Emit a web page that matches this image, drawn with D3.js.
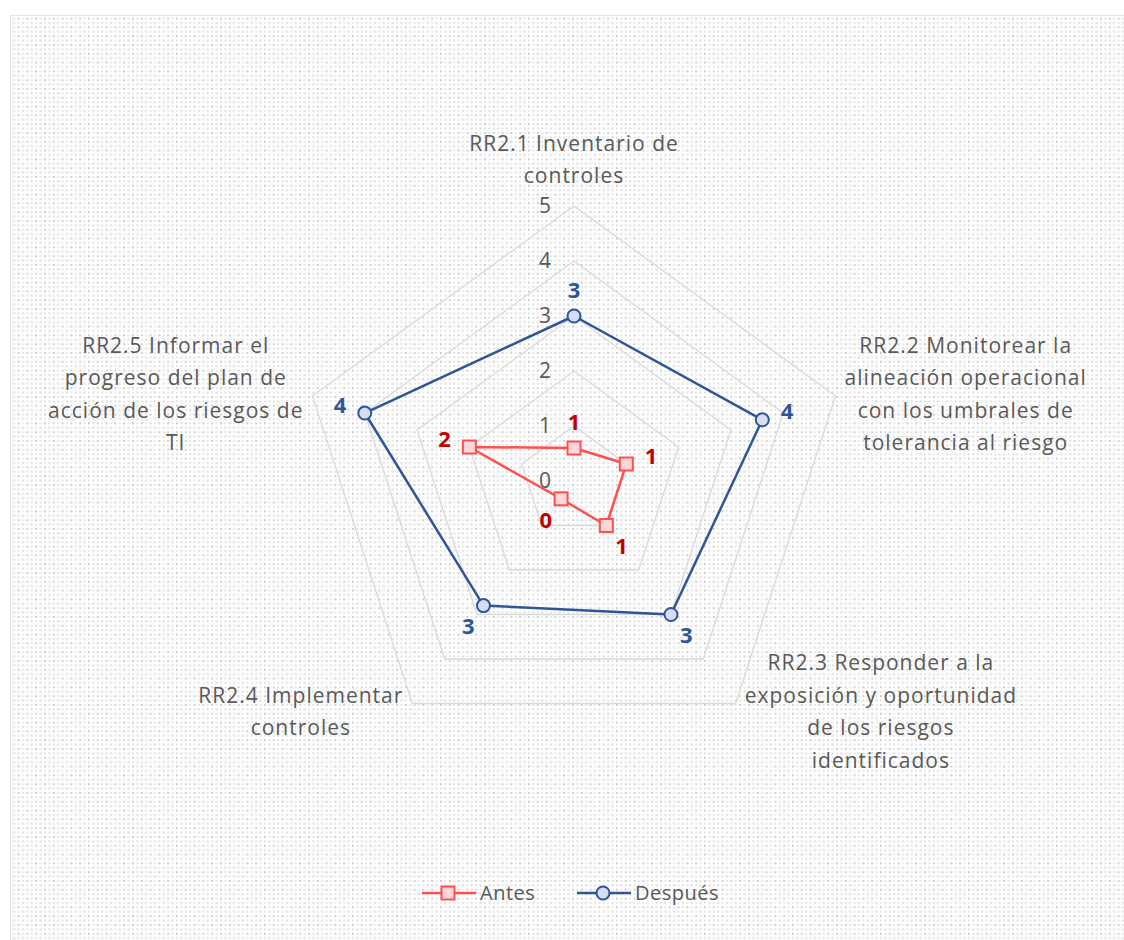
<!DOCTYPE html>
<html>
<head>
<meta charset="utf-8">
<script src="https://cdn.jsdelivr.net/npm/d3@7"></script>
<style>
  html, body { margin: 0; padding: 0; background: #ffffff; }
  svg { display: block; }
  text { font-family: "Open Sans", Lato, sans-serif; }
</style>
</head>
<body>
<svg id="chart" width="1124" height="940"></svg>
<script>
// Evaluation areas (one spoke each), split into display lines
const categories = [
  ["RR2.1 Inventario de", "controles"],
  ["RR2.2 Monitorear la", "alineación operacional", "con los umbrales de", "tolerancia al riesgo"],
  ["RR2.3 Responder a la", "exposición y oportunidad", "de los riesgos", "identificados"],
  ["RR2.4 Implementar", "controles"],
  ["RR2.5 Informar el", "progreso del plan de", "acción de los riesgos de", "TI"]
];
const seriesNames = ["Antes", "Después"];
const antes = [0.6, 1.0, 1.0, 0.4, 2.0];
const despues = [3.0, 3.6, 3.0, 2.8, 4.0];
const tickValues = [0, 1, 2, 3, 4, 5];

const W = 1124, H = 940;
const cx = 574, cy = 481, R = 275;
const svg = d3.select("#chart");

// Dotted chart-area fill
const defs = svg.append("defs");
const pat = defs.append("pattern")
  .attr("id", "dots").attr("patternUnits", "userSpaceOnUse")
  .attr("width", 8.8).attr("height", 8.8);
pat.append("rect").attr("width", 8.8).attr("height", 8.8).attr("fill", "#ffffff");
[[0, 0, "#cccccc"], [4.4, 0, "#e2e2e2"], [0, 4.4, "#e2e2e2"], [4.4, 4.4, "#d6d6d6"]]
  .forEach(([x, y, c]) => pat.append("rect").attr("x", x).attr("y", y)
    .attr("width", 1.9).attr("height", 1.9).attr("fill", c));

svg.append("rect").attr("x", 10.5).attr("y", 15.5)
  .attr("width", W + 20).attr("height", H + 20)
  .attr("fill", "url(#dots)").attr("stroke", "#e6e6e6").attr("stroke-width", 1);

const n = categories.length;
const angle = d3.scaleLinear().domain([0, n]).range([0, 2 * Math.PI]);
const r = d3.scaleLinear().domain([0, 5]).range([0, R]);
const pt = (i, v) => [cx + r(v) * Math.sin(angle(i)), cy - r(v) * Math.cos(angle(i))];

// Grid pentagons
const gridLine = d3.line().curve(d3.curveLinearClosed);
svg.append("g").selectAll("path")
  .data(tickValues.filter(t => t > 0))
  .join("path")
  .attr("d", t => gridLine(d3.range(n).map(i => pt(i, t))))
  .attr("fill", "none").attr("stroke", "#d9d9d9").attr("stroke-width", 1.3);

// Value axis tick labels along the first spoke
svg.append("g").selectAll("text")
  .data(tickValues)
  .join("text")
  .attr("x", cx - 23).attr("y", t => pt(0, t)[1])
  .attr("dy", "0.35em").attr("text-anchor", "end")
  .attr("font-size", 21).attr("fill", "#595959")
  .text(d3.format("d"));

// Category labels outside each vertex
const catG = svg.append("g");
const lineH = 32.5, fs = 21;
categories.forEach((lines, i) => {
  const [vx, vy] = pt(i, 5);
  const g = catG.append("g");
  const texts = lines.map(l => g.append("text")
    .attr("font-size", fs).attr("letter-spacing", 1)
    .attr("fill", "#595959").attr("text-anchor", "middle").text(l));
  const bw = d3.max(texts, t => t.node().getComputedTextLength());
  const bh = lines.length * lineH;
  let left, top;
  const a = angle(i);
  const sx = Math.sin(a);
  if (Math.abs(sx) < 0.01) { left = vx - bw / 2; top = vy - 14 - bh; }
  else if (sx > 0) { left = vx + 9; top = vy - bh / 2 + (Math.cos(a) < 0 ? 8 : -2); }
  else { left = vx - 9 - bw; top = vy - bh / 2 + (Math.cos(a) < 0 ? 8 : -2); }
  texts.forEach((t, k) => t.attr("x", left + bw / 2)
    .attr("y", top + lineH * (k + 0.5)).attr("dy", "0.35em"));
});

// Series
const series = [
  { name: seriesNames[0], values: antes, stroke: "#ff4f4f", fill: "#ffd7da", label: "#c00000", shape: "square" },
  { name: seriesNames[1], values: despues, stroke: "#2f5597", fill: "#d6dff2", label: "#2f5597", shape: "circle" }
];
const fmt = d3.format(".0f");
const drawMarker = (sel, s) => {
  if (s.shape === "square") {
    sel.append("rect").attr("x", -6.5).attr("y", -6.5).attr("width", 13).attr("height", 13)
      .attr("fill", s.fill).attr("stroke", s.stroke).attr("stroke-width", 2);
  } else {
    sel.append("circle").attr("r", 6.5)
      .attr("fill", s.fill).attr("stroke", s.stroke).attr("stroke-width", 2);
  }
};

series.forEach(s => {
  const g = svg.append("g");
  g.append("path")
    .attr("d", gridLine(s.values.map((v, i) => pt(i, v))))
    .attr("fill", "none").attr("stroke", s.stroke).attr("stroke-width", 2.5)
    .attr("stroke-linejoin", "round");
  s.values.forEach((v, i) => {
    const [x, y] = pt(i, v);
    drawMarker(g.append("g").attr("transform", `translate(${x},${y})`), s);
  });
  s.values.forEach((v, i) => {
    const a = angle(i);
    const [x, y] = pt(i, v);
    g.append("text")
      .attr("x", x + 26 * Math.sin(a)).attr("y", y - 26 * Math.cos(a))
      .attr("dy", "0.35em").attr("text-anchor", "middle")
      .attr("font-size", 22).attr("font-weight", "bold").attr("fill", s.label)
      .text(fmt(v));
  });
});

// Legend
const legendX = [422, 577], legendY = 893;
series.forEach((s, k) => {
  const g = svg.append("g").attr("transform", `translate(${legendX[k]},${legendY})`);
  g.append("line").attr("x1", 0).attr("x2", 54).attr("stroke", s.stroke).attr("stroke-width", 2.5);
  drawMarker(g.append("g").attr("transform", "translate(26,0)"), s);
  g.append("text").attr("x", 58).attr("dy", "0.35em")
    .attr("font-size", 20).attr("letter-spacing", 0.5).attr("fill", "#595959").text(s.name);
});
</script>
</body>
</html>
